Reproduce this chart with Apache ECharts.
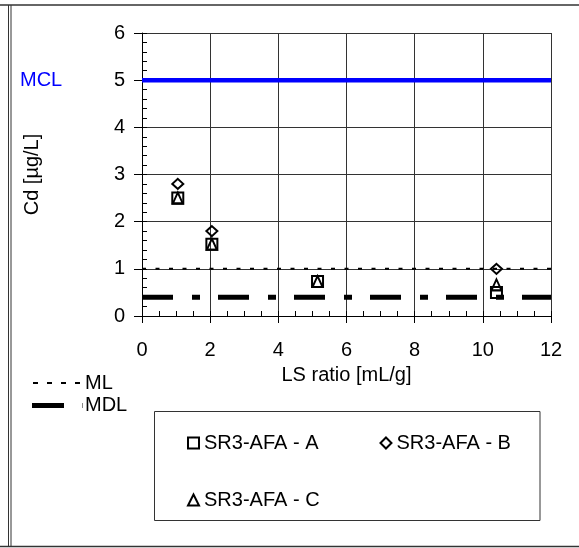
<!DOCTYPE html>
<html>
<head>
<meta charset="utf-8">
<script src="https://cdn.jsdelivr.net/npm/echarts@6/dist/echarts.min.js"></script>
<style>
  html, body { margin: 0; padding: 0; background: #fff; }
  #chart { width: 579px; height: 548px; }
</style>
</head>
<body>
<div id="chart"></div>
<script>
// ---- data ----
const lsRatio = [1.05, 2.05, 5.15, 10.4];
const seriesA = [2.5, 1.52, 0.73, 0.5];
const seriesB = [2.8, 1.8, null, 1.0];
const seriesC = [2.5, 1.52, 0.73, 0.66];
const refX = [0, 12];
const mclValue = 5;
const mlValue = 1;
const mdlValue = 0.4;
const seriesNames = ['SR3-AFA - A', 'SR3-AFA - B', 'SR3-AFA - C'];
const xTicks = [0, 2, 4, 6, 8, 10, 12];
const yTicks = [0, 1, 2, 3, 4, 5, 6];

const FONT = 'Liberation Sans, Arial, sans-serif';
const pts = (ys) => lsRatio.map((x, i) => ys[i] == null ? null : [x, ys[i]]).filter(p => p);
const hline = (v) => refX.map(x => [x, v]);

const chart = echarts.init(document.getElementById('chart'), null, { renderer: 'canvas' });

const hollow = { color: 'transparent', borderColor: '#000', borderWidth: 2, opacity: 1 };
const gridColor = '#333';

const option = {
  animation: false,
  backgroundColor: '#fff',
  textStyle: { fontFamily: FONT, color: '#000' },
  grid: { left: 142, right: 28, top: 33, bottom: 232, containLabel: false },
  xAxis: [
    {
      type: 'value', min: xTicks[0], max: xTicks[xTicks.length - 1], interval: 2,
      name: 'LS ratio [mL/g]', nameLocation: 'middle', nameGap: 49,
      nameTextStyle: { fontSize: 20, fontFamily: FONT, color: '#000' },
      axisLine: { show: true, onZero: false, lineStyle: { color: '#000', width: 1 } },
      axisTick: { show: true, inside: false, length: 7, lineStyle: { color: '#000' } },
      axisLabel: { fontSize: 20, fontFamily: FONT, color: '#000', margin: 24 },
      splitLine: { show: true, lineStyle: { color: gridColor, width: 1 } },
      minorTick: { show: false }
    },
    {
      type: 'value', min: 0, max: 12, interval: 2, position: 'bottom',
      axisLine: { show: false },
      axisTick: { show: true, inside: true, length: 5, lineStyle: { color: '#000' } },
      minorTick: { show: true, splitNumber: 4, length: 5, lineStyle: { color: '#000' } },
      axisLabel: { show: false }, splitLine: { show: false }
    }
  ],
  yAxis: [
    {
      type: 'value', min: yTicks[0], max: yTicks[yTicks.length - 1], interval: 1,
      name: 'Cd [µg/L]', nameLocation: 'middle', nameGap: 100,
      nameTextStyle: { fontSize: 20, fontFamily: FONT, color: '#000' },
      axisLine: { show: true, onZero: false, lineStyle: { color: '#000', width: 1 } },
      axisTick: { show: true, inside: false, length: 8, lineStyle: { color: '#000' } },
      axisLabel: { fontSize: 20, fontFamily: FONT, color: '#000', margin: 17 },
      splitLine: { show: true, lineStyle: { color: gridColor, width: 1 } }
    },
    {
      type: 'value', min: 0, max: 6, interval: 1, position: 'left',
      axisLine: { show: false },
      axisTick: { show: true, inside: true, length: 5, lineStyle: { color: '#000' } },
      minorTick: { show: true, splitNumber: 5, length: 5, lineStyle: { color: '#000' } },
      axisLabel: { show: false }, splitLine: { show: false }
    }
  ],
  legend: [
    {
      data: [seriesNames[0], seriesNames[1]], orient: 'horizontal',
      left: 182, top: 428, itemGap: 61, itemWidth: 11, itemHeight: 11,
      textStyle: { fontSize: 20, fontFamily: FONT, color: '#000' },
      itemStyle: hollow
    },
    {
      data: [seriesNames[2]], orient: 'horizontal',
      left: 182, top: 485, itemWidth: 11, itemHeight: 11,
      textStyle: { fontSize: 20, fontFamily: FONT, color: '#000' },
      itemStyle: hollow
    }
  ],
  series: [
    {
      name: 'MCL', type: 'line', data: hline(mclValue), symbol: 'none',
      lineStyle: { color: '#0000ff', width: 4.5 }, z: 3, silent: true
    },
    {
      name: 'ML', type: 'line', data: hline(mlValue), symbol: 'none',
      lineStyle: { color: '#000', width: 2, type: [4, 9.5] }, z: 3, silent: true
    },
    {
      name: 'MDL', type: 'line', data: hline(mdlValue), symbol: 'none',
      lineStyle: { color: '#000', width: 5, type: [31, 19, 8, 18], cap: 'butt' }, z: 3, silent: true
    },
    {
      name: seriesNames[0], type: 'scatter', data: pts(seriesA), symbol: 'rect', symbolSize: 11,
      itemStyle: hollow, z: 5
    },
    {
      name: seriesNames[1], type: 'scatter', data: pts(seriesB), symbol: 'diamond', symbolSize: [11, 10],
      itemStyle: hollow, z: 5
    },
    {
      name: seriesNames[2], type: 'scatter', data: pts(seriesC), symbol: 'triangle', symbolSize: [10, 11],
      itemStyle: hollow, z: 5
    }
  ],
  graphic: [
    // outer frame
    { type: 'line', shape: { x1: 0, y1: 5, x2: 579, y2: 5 }, style: { stroke: '#333', lineWidth: 1.5 }, silent: true },
    { type: 'line', shape: { x1: 0, y1: 546.5, x2: 579, y2: 546.5 }, style: { stroke: '#333', lineWidth: 1.5 }, silent: true },
    { type: 'line', shape: { x1: 8.5, y1: 5, x2: 8.5, y2: 547 }, style: { stroke: '#333', lineWidth: 1 }, silent: true },
    { type: 'line', shape: { x1: 11, y1: 5, x2: 11, y2: 547 }, style: { stroke: '#333', lineWidth: 1 }, silent: true },
    // MCL label
    { type: 'text', left: 20, top: 70, style: { text: 'MCL', fill: '#0000ff', font: '20px ' + FONT }, silent: true },
    // ML / MDL legend
    { type: 'line', shape: { x1: 33, y1: 383, x2: 80, y2: 383 }, style: { stroke: '#000', lineWidth: 2, lineDash: [5, 9] }, silent: true },
    { type: 'text', left: 85, top: 373, style: { text: 'ML', fill: '#000', font: '20px ' + FONT }, silent: true },
    { type: 'line', shape: { x1: 32, y1: 405.5, x2: 64, y2: 405.5 }, style: { stroke: '#000', lineWidth: 5 }, silent: true },
    { type: 'line', shape: { x1: 82.5, y1: 403, x2: 82.5, y2: 408 }, style: { stroke: '#888', lineWidth: 1 }, silent: true },
    { type: 'text', left: 85, top: 395, style: { text: 'MDL', fill: '#000', font: '20px ' + FONT }, silent: true },
    // legend box
    { type: 'rect', shape: { x: 154.5, y: 411.5, width: 385.5, height: 109 }, style: { fill: 'none', stroke: '#333', lineWidth: 1 }, silent: true, z: 0 }
  ]
};

chart.setOption(option);
</script>
</body>
</html>
